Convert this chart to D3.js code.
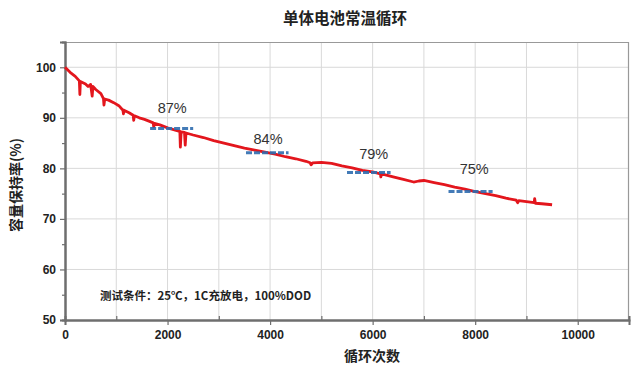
<!DOCTYPE html>
<html>
<head>
<meta charset="utf-8">
<script src="https://cdn.jsdelivr.net/npm/d3@7"></script>
<style>
  body { margin: 0; background: #fff; }
  svg { display: block; font-family: Arial, "Liberation Sans", sans-serif; }
</style>
</head>
<body>
<div id="chart"></div>
<script>
// capacity retention curve: [cycle, retention %]
const curvePoints = [
    [0, 100], [100, 99.0], [200, 98.2], [280, 97.3], [290, 94.6], [300, 97.2],
    [400, 96.7], [450, 96.2], [500, 96.6], [530, 94.3], [545, 96.2], [600, 95.6],
    [700, 94.8], [750, 93.8], [760, 92.5], [775, 93.7], [850, 93.5], [950, 93.0],
    [1050, 92.4], [1130, 91.5], [1140, 90.8], [1150, 91.5], [1250, 91.0],
    [1330, 90.5], [1340, 89.5], [1355, 90.4], [1450, 90.0], [1550, 89.7],
    [1650, 89.3], [1720, 89.0], [1730, 88.2], [1745, 88.9], [1850, 88.6],
    [2000, 88.0], [2100, 87.7], [2200, 87.4], [2240, 87.3], [2250, 84.2],
    [2265, 87.2], [2330, 87.1], [2345, 84.6], [2360, 87.0], [2500, 86.6],
    [2700, 86.1], [2900, 85.5], [3100, 85.0], [3300, 84.5], [3500, 84.0],
    [3700, 83.6], [3900, 83.2], [4100, 82.8], [4300, 82.3], [4500, 81.9],
    [4700, 81.4], [4780, 81.1], [4800, 80.7], [4830, 81.1], [5000, 81.2],
    [5200, 81.0], [5400, 80.5], [5600, 80.1], [5800, 79.6], [6000, 79.3],
    [6150, 78.9], [6160, 78.3], [6175, 78.9], [6400, 78.3], [6600, 77.8],
    [6800, 77.3], [6900, 77.5], [7000, 77.6], [7200, 77.2], [7400, 76.8],
    [7600, 76.3], [7800, 75.9], [8000, 75.4], [8200, 75.0], [8400, 74.6],
    [8600, 74.1], [8800, 73.7], [8830, 73.2], [8850, 73.6], [9000, 73.4],
    [9150, 73.2], [9160, 74.0], [9175, 73.1], [9300, 73.0], [9500, 72.8]
];

// dashed reference marks
const refLabels = ["87%", "84%", "79%", "75%"];
const refStart = [1660, 3530, 5500, 7480];
const refEnd = [2500, 4360, 6350, 8340];
const refValue = [87.9, 83.1, 79.2, 75.4];
const refLabelCycle = [2090, 3960, 6020, 7980];
const refLabelValue = [91.0, 84.9, 81.8, 78.85];

const xTicks = [0, 2000, 4000, 6000, 8000, 10000];
const xMinorTicks = [1000, 3000, 5000, 7000, 9000];
const xGrid = [1000, 2000, 3000, 4000, 5000, 6000, 7000, 8000, 9000, 10000];
const yTicks = [50, 60, 70, 80, 90, 100];
const yMinorTicks = [55, 65, 75, 85, 95];

const title = "单体电池常温循环";
const xTitle = "循环次数";
const yTitle = "容量保持率(%)";
const note = "测试条件：25℃，1C充放电，100%DOD";

const margin = { top: 42, right: 11, bottom: 49, left: 65 };
const width = 640 - margin.left - margin.right;
const height = 369 - margin.top - margin.bottom;

const root = d3.select("#chart").append("svg")
    .attr("width", 640)
    .attr("height", 369);

const svg = root.append("g")
    .attr("transform", "translate(" + margin.left + "," + margin.top + ")");

const x = d3.scaleLinear().domain([0, 11000]).range([0, width]);
const y = d3.scaleLinear().domain([50, 105]).range([height, 0]);

// grid
svg.append("g").selectAll("line")
    .data(xGrid).enter().append("line")
    .attr("x1", d => x(d)).attr("x2", d => x(d))
    .attr("y1", 0).attr("y2", height)
    .attr("stroke", "#d9d9d9").attr("stroke-width", 1);

svg.append("g").selectAll("line")
    .data(yTicks.slice(1)).enter().append("line")
    .attr("x1", 0).attr("x2", width)
    .attr("y1", d => y(d)).attr("y2", d => y(d))
    .attr("stroke", "#d9d9d9").attr("stroke-width", 1);

// top / right border
svg.append("path")
    .attr("d", "M0,0.5H" + (width - 0.5) + "V" + height)
    .attr("fill", "none")
    .attr("stroke", "#999")
    .attr("stroke-width", 1.2);

// axes
const xAxis = svg.append("g")
    .attr("transform", "translate(0," + height + ")")
    .call(d3.axisBottom(x).tickValues(xTicks).tickSize(5).tickPadding(5).tickFormat(d3.format("d")));

const xMinor = svg.append("g")
    .attr("transform", "translate(0," + height + ")")
    .call(d3.axisBottom(x).tickValues(xMinorTicks).tickSize(-4).tickFormat(""));

const yAxis = svg.append("g")
    .call(d3.axisLeft(y).tickValues(yTicks).tickSize(5).tickPadding(4));

const yMinor = svg.append("g")
    .call(d3.axisLeft(y).tickValues(yMinorTicks).tickSize(3).tickFormat(""));

[xAxis, xMinor, yAxis, yMinor].forEach(g => {
    g.select(".domain").attr("stroke", "#6e6e6e").attr("stroke-width", 2);
    g.selectAll(".tick line").attr("stroke", "#6e6e6e").attr("stroke-width", 1.2);
    g.selectAll("text")
        .attr("fill", "#222")
        .style("font-size", "12px")
        .style("font-weight", "bold");
});

// curve
const line = d3.line()
    .x(d => x(d[0]))
    .y(d => y(d[1]));

svg.append("path")
    .datum(curvePoints)
    .attr("fill", "none")
    .attr("stroke", "#e3161d")
    .attr("stroke-width", 2.8)
    .attr("stroke-linejoin", "round")
    .attr("d", line);

// reference dashes
svg.append("g").selectAll("line")
    .data(refLabels).enter().append("line")
    .attr("x1", (_, i) => x(refStart[i]))
    .attr("x2", (_, i) => x(refEnd[i]))
    .attr("y1", (_, i) => y(refValue[i]))
    .attr("y2", (_, i) => y(refValue[i]))
    .attr("stroke", "#2f6db0")
    .attr("stroke-width", 3)
    .attr("stroke-dasharray", "6,2")
    .attr("opacity", 0.9);

svg.append("g").selectAll("text")
    .data(refLabels).enter().append("text")
    .attr("x", (_, i) => x(refLabelCycle[i]))
    .attr("y", (_, i) => y(refLabelValue[i]))
    .attr("text-anchor", "middle")
    .attr("fill", "#333")
    .style("font-size", "14.5px")
    .text(d => d);

// note
svg.append("text")
    .attr("x", 35)
    .attr("y", 258)
    .attr("fill", "#222")
    .style("font-family", "'Noto Sans CJK SC', sans-serif")
    .style("font-size", "11.5px")
    .style("font-weight", "bold")
    .text(note);

// titles
root.append("text")
    .attr("x", 345)
    .attr("y", 24)
    .attr("text-anchor", "middle")
    .attr("fill", "#222")
    .style("font-family", "'Noto Sans CJK SC', sans-serif")
    .style("font-size", "15.5px")
    .style("font-weight", "bold")
    .text(title);

root.append("text")
    .attr("x", 372)
    .attr("y", 361)
    .attr("text-anchor", "middle")
    .attr("fill", "#222")
    .style("font-family", "'Noto Sans CJK SC', sans-serif")
    .style("font-size", "14px")
    .style("font-weight", "bold")
    .text(xTitle);

root.append("text")
    .attr("transform", "translate(21,185) rotate(-90)")
    .attr("text-anchor", "middle")
    .attr("fill", "#222")
    .style("font-family", "'Noto Sans CJK SC', sans-serif")
    .style("font-size", "14px")
    .style("font-weight", "bold")
    .text(yTitle);
</script>
</body>
</html>
